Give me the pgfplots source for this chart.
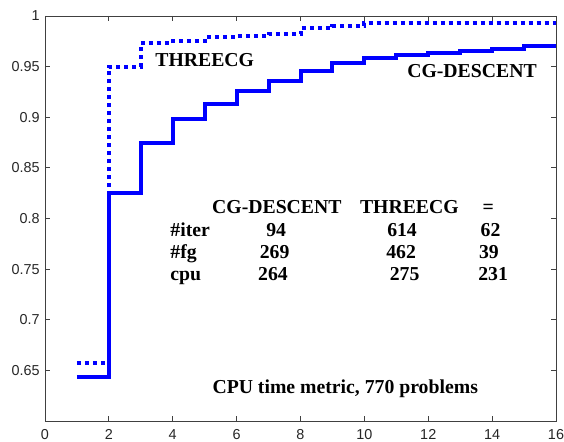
\documentclass[border=0pt]{standalone}
\usepackage{fontspec}
\setmainfont{Liberation Serif}
\newfontfamily\ticksans{Liberation Sans}
\usepackage{pgfplots}
\pgfplotsset{compat=1.18}
\begin{document}
\begin{tikzpicture}
\begin{axis}[
  scale only axis,
  width=383.25pt, height=303.75pt,
  xmin=0, xmax=16, ymin=0.6, ymax=1,
  xtick={0,2,4,6,8,10,12,14,16},
  ytick={0.65,0.7,0.75,0.8,0.85,0.9,0.95,1},
  yticklabels={0.65,0.7,0.75,0.8,0.85,0.9,0.95,1},
  xticklabels={0,2,4,6,8,10,12,14,16},
  /pgf/number format/assume math mode=true,
  tick label style={font=\ticksans\fontsize{10.8}{12}\selectfont, black!85},
  tick align=inside, tickpos=both,
  major tick length=3.75pt,
  axis line style={black!75, line width=0.6pt},
  every tick/.style={black!75, line width=0.6pt},
  xticklabel style={yshift=-3pt},
  yticklabel style={xshift=-0.5pt},
  clip=false,
]
\addplot[const plot, color={rgb,255:red,0;green,0;blue,255}, line width=3pt, line join=miter] coordinates {
(1,0.643) (2,0.825) (3,0.875) (4,0.898) (5,0.913) (6,0.926) (7,0.936) (8,0.946)
(9,0.954) (10,0.959) (11,0.961) (12,0.963) (13,0.965) (14,0.967) (15,0.970) (16,0.970)
};
\addplot[const plot, color={rgb,255:red,0;green,0;blue,255}, line width=3pt, dash pattern=on 3pt off 3pt] coordinates {
(1,0.657) (2,0.950) (3,0.973) (4,0.975) (5,0.979) (6,0.980) (7,0.982) (8,0.988)
(9,0.990) (10,0.993) (16,0.993)
};
\begin{scope}[every node/.style={font=\bfseries\fontsize{14.8}{16}\selectfont, inner sep=0pt, anchor=base}]
\node at (axis cs:5.0,0.9499) {THREECG};
\node at (axis cs:13.37,0.9394) {CG-DESCENT};
\node at (axis cs:7.26,0.8049) {CG-DESCENT};
\node at (axis cs:11.41,0.8049) {THREECG};
\node at (axis cs:13.88,0.8049) {=};
\node[anchor=base west] at (axis cs:3.92,0.7825) {\#iter};
\node[anchor=base west] at (axis cs:3.92,0.7604) {\#fg};
\node[anchor=base west] at (axis cs:3.92,0.7383) {cpu};
\node at (axis cs:7.24,0.7825) {94};
\node at (axis cs:11.18,0.7825) {614};
\node at (axis cs:13.95,0.7825) {62};
\node at (axis cs:7.19,0.7604) {269};
\node at (axis cs:11.15,0.7604) {462};
\node at (axis cs:13.9,0.7604) {39};
\node at (axis cs:7.14,0.7383) {264};
\node at (axis cs:11.26,0.7383) {275};
\node at (axis cs:14.03,0.7383) {231};
\node at (axis cs:9.4,0.6275) {CPU time metric, 770 problems};
\end{scope}
\end{axis}
\pgfresetboundingbox
\path (current axis.south west) ++(-33.75pt,-15.75pt) coordinate (bbsw);
\path (current axis.north east) ++(6pt,12pt) coordinate (bbne);
\useasboundingbox (bbsw) rectangle (bbne);
\end{tikzpicture}
\end{document}
